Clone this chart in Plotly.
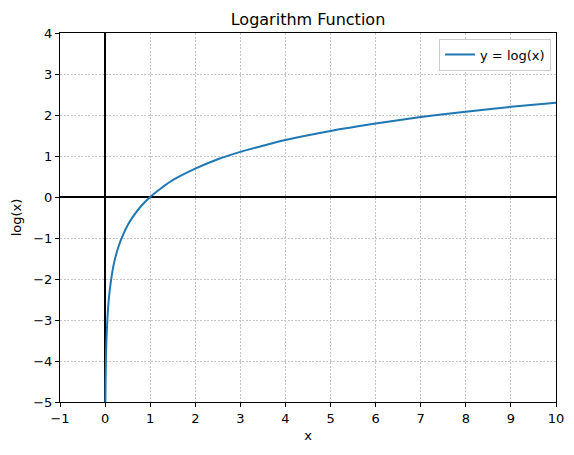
import plotly.graph_objects as go

# points
x_vals = [0.007, 0.01, 0.02, 0.03, 0.05, 0.07, 0.1, 0.15, 0.2, 0.3, 0.4, 0.5, 0.6, 0.8,
          1.0, 1.25, 1.5, 2.0, 2.5, 3.0, 3.5, 4.0, 5.0, 6.0, 7.0, 8.0, 9.0, 10.0]
y_vals = [-5.0, -4.6, -3.9, -3.5, -3.0, -2.65, -2.3, -1.9, -1.6, -1.2, -0.92, -0.69, -0.51, -0.22,
          0.0, 0.22, 0.41, 0.69, 0.92, 1.1, 1.25, 1.39, 1.61, 1.79, 1.95, 2.08, 2.2, 2.3]

x_ticks = [-1, 0, 1, 2, 3, 4, 5, 6, 7, 8, 9, 10]
y_ticks = [-5, -4, -3, -2, -1, 0, 1, 2, 3, 4]

fig = go.Figure()
fig.add_trace(go.Scatter(
    x=x_vals, y=y_vals, mode="lines", name="y = log(x)",
    line=dict(color="#1f77b4", width=2, shape="spline", smoothing=0.6),
))

axis_style = dict(
    showline=True, linecolor="black", linewidth=1, mirror=True,
    ticks="outside", ticklen=4, tickcolor="black",
    showgrid=True, gridcolor="#c4c4c4", griddash="2px,1.5px", gridwidth=0.6,
    zeroline=True, zerolinecolor="black", zerolinewidth=1.6,
    tickfont=dict(size=13, color="black"), automargin=False,
)

fig.update_xaxes(range=[-1, 10], tickvals=x_ticks,
                 title=dict(text="x", font=dict(size=13), standoff=6), **axis_style)
fig.update_yaxes(range=[-5, 4], tickvals=y_ticks,
                 title=dict(text="log(x)", font=dict(size=13), standoff=8), **axis_style)

# page body adds ~8px offset, margins compensate
fig.update_layout(
    width=574, height=455,
    margin=dict(l=52, r=26, t=25, b=61),
    font=dict(family="DejaVu Sans", color="black"),
    title=dict(text="Logarithm Function", x=0.5, xref="paper", xanchor="center",
               y=0.975, yanchor="middle", font=dict(size=16)),
    plot_bgcolor="white", paper_bgcolor="white",
    showlegend=True,
    legend=dict(x=0.99, y=0.985, xanchor="right", yanchor="top",
                bordercolor="#cccccc", borderwidth=1, bgcolor="white",
                font=dict(size=13), itemwidth=30),
)

fig.write_html("out.html")
